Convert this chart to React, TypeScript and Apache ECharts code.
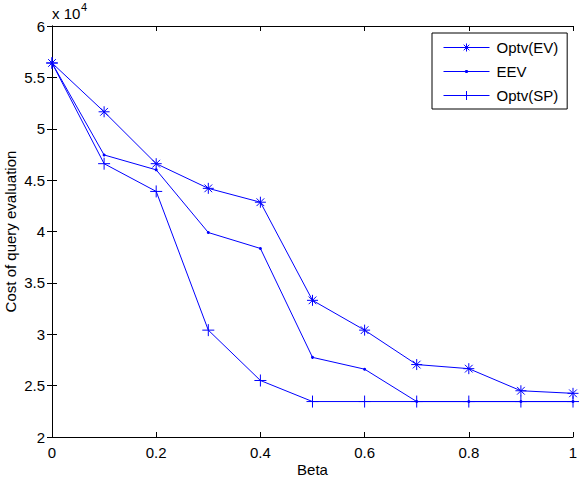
import React, { useEffect, useRef } from "react";
import * as echarts from "echarts";

// Beta values on the x axis
const betas = [0, 0.1, 0.2, 0.3, 0.4, 0.5, 0.6, 0.7, 0.8, 0.9, 1.0];

// Cost of query evaluation for each method
const optvEV = [56400, 51650, 46600, 44200, 42850, 33300, 30400, 27050, 26650, 24500, 24250];
const eev = [56400, 47450, 46000, 39900, 38350, 27750, 26600, 23450, 23450, 23450, 23450];
const optvSP = [56400, 46600, 43900, 30400, 25500, 23450, 23450, 23450, 23450, 23450, 23450];

const seriesNames = ["Optv(EV)", "EEV", "Optv(SP)"];

const BLUE = "#0000ff";
const FONT = "'Liberation Sans', Arial, Helvetica, sans-serif";

// Plot markers (stroked paths)
const ASTERISK = "path://M0,5L10,5M5,0L5,10M1.5,1.5L8.5,8.5M1.5,8.5L8.5,1.5";
const PLUS = "path://M0,5L10,5M5,0L5,10";

// Legend icons: a 46x14 line sample with the marker in its middle.
// The two bare moves pin the icon's bounding box to the full 46x14 cell.
const BOX = "M23,0M23,14";
const LEGEND_EV = `path://${BOX}M0,7L46,7M19,7L27,7M23,3L23,11M20.2,4.2L25.8,9.8M20.2,9.8L25.8,4.2`;
const LEGEND_EEV = `path://${BOX}M0,7L46,7M22,6L24,6L24,8L22,8Z`;
const LEGEND_SP = `path://${BOX}M0,7L46,7M18.5,7L27.5,7M23,2.5L23,11.5`;

const pairs = (ys: number[]) => betas.map((b, i) => [b, ys[i]]);

export default function App() {
  const ref = useRef<HTMLDivElement>(null);

  useEffect(() => {
    if (!ref.current) return;
    const chart = echarts.init(ref.current, undefined, { renderer: "svg" });

    const axisLine = { show: true, lineStyle: { color: "#000", width: 1 } };
    const axisTick = { show: true, inside: true, length: 5, lineStyle: { color: "#000" } };
    const label = { color: "#000", fontSize: 15, fontFamily: FONT };
    const strokeIcon = { color: "none", borderColor: BLUE, borderWidth: 1 };

    chart.setOption({
      animation: false,
      backgroundColor: "#fff",
      grid: {
        left: 52,
        right: 9,
        top: 26,
        bottom: 43,
        containLabel: false,
        outerBoundsMode: "none",
      },
      xAxis: [
        {
          type: "value",
          min: 0,
          max: 1,
          interval: 0.2,
          position: "bottom",
          axisLine,
          axisTick,
          splitLine: { show: false },
          axisLabel: { ...label, margin: 8 },
          name: "Beta",
          nameLocation: "middle",
          nameGap: 25,
          nameMoveOverlap: false,
          nameTextStyle: { ...label },
        },
        {
          type: "value",
          min: 0,
          max: 1,
          interval: 0.2,
          position: "top",
          axisLine,
          axisTick,
          splitLine: { show: false },
          axisLabel: { show: false },
        },
      ],
      yAxis: [
        {
          type: "value",
          min: 20000,
          max: 60000,
          interval: 5000,
          position: "left",
          axisLine,
          axisTick,
          splitLine: { show: false },
          axisLabel: {
            ...label,
            margin: 7,
            formatter: (v: number) => String(v / 10000),
          },
          name: "Cost of query evaluation",
          nameLocation: "middle",
          nameRotate: 90,
          nameGap: 34,
          nameMoveOverlap: false,
          nameTextStyle: { ...label },
        },
        {
          type: "value",
          min: 20000,
          max: 60000,
          interval: 5000,
          position: "right",
          axisLine,
          axisTick,
          splitLine: { show: false },
          axisLabel: { show: false },
        },
      ],
      legend: {
        data: [
          { name: seriesNames[0], icon: LEGEND_EV, itemStyle: strokeIcon },
          { name: seriesNames[1], icon: LEGEND_EEV, itemStyle: strokeIcon },
          { name: seriesNames[2], icon: LEGEND_SP, itemStyle: strokeIcon },
        ],
        orient: "vertical",
        left: 432,
        top: 33,
        itemWidth: 46,
        itemHeight: 14,
        itemGap: 5,
        padding: [5, 9, 4, 9],
        backgroundColor: "#fff",
        borderColor: "#000",
        borderWidth: 1,
        borderRadius: 0,
        textStyle: { color: "#000", fontSize: 15, fontFamily: FONT, padding: [0, 0, 0, 2] },
      },
      graphic: [
        {
          type: "text",
          left: 52,
          top: 6,
          style: { text: "x 10", fill: "#000", fontSize: 15, fontFamily: FONT },
        },
        {
          type: "text",
          left: 81,
          top: 1,
          style: { text: "4", fill: "#000", fontSize: 11, fontFamily: FONT },
        },
      ],
      series: [
        {
          name: seriesNames[0],
          type: "line",
          data: pairs(optvEV),
          symbol: ASTERISK,
          symbolSize: 11,
          lineStyle: { color: BLUE, width: 1 },
          itemStyle: { color: "none", borderColor: BLUE, borderWidth: 1 },
        },
        {
          name: seriesNames[1],
          type: "line",
          data: pairs(eev),
          symbol: "circle",
          symbolSize: 3,
          lineStyle: { color: BLUE, width: 1 },
          itemStyle: { color: BLUE, borderWidth: 0 },
        },
        {
          name: seriesNames[2],
          type: "line",
          data: pairs(optvSP),
          symbol: PLUS,
          symbolSize: 12,
          lineStyle: { color: BLUE, width: 1 },
          itemStyle: { color: "none", borderColor: BLUE, borderWidth: 1 },
        },
      ],
    });

    return () => chart.dispose();
  }, []);

  return <div ref={ref} style={{ width: 582, height: 480, position: "fixed", left: 0, top: 0 }} />;
}
